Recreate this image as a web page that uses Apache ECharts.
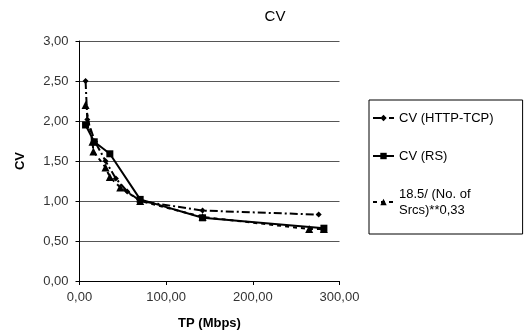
<!DOCTYPE html>
<html>
<head>
<meta charset="utf-8">
<script src="https://cdn.jsdelivr.net/npm/echarts@6/dist/echarts.min.js"></script>
<style>html,body{margin:0;padding:0;background:#fff}#c{width:526px;height:336px}</style>
</head>
<body>
<div id="c"></div>
<script>
const seriesNames = ['CV (HTTP-TCP)', 'CV (RS)', '18.5/ (No. of\nSrcs)**0,33'];
const httpTcp = [[7, 2.50], [9, 2.02], [18, 1.74], [30, 1.50], [42, 1.28], [55, 1.12], [70, 1.00], [142, 0.88], [276, 0.83]];
const rs = [[7, 1.95], [17, 1.74], [35, 1.59], [70, 1.02], [142, 0.79], [282, 0.66]];
const formula = [[7, 2.20], [15, 1.74], [16, 1.62], [30, 1.42], [35, 1.30], [47, 1.17], [70, 1.00], [142, 0.80], [265, 0.65], [282, 0.65]];
const xTicks = [0, 100, 200, 300];
const yTicks = [0, 0.5, 1, 1.5, 2, 2.5, 3];

const fmt = v => v.toFixed(2).replace('.', ',');
const chart = echarts.init(document.getElementById('c'), null, {renderer: 'canvas'});
const font = 'Liberation Sans, Arial, sans-serif';
chart.setOption({
  animation: false,
  backgroundColor: '#fff',
  title: {text: 'CV', left: 270, top: 4, textAlign: 'center',
    textStyle: {fontFamily: font, fontSize: 15, fontWeight: 'normal', color: '#000'}},
  grid: {left: 79.5, right: 186.5, top: 41, bottom: 55},
  xAxis: {
    type: 'value', min: xTicks[0], max: xTicks[xTicks.length - 1], interval: 100,
    name: 'TP (Mbps)', nameLocation: 'middle', nameGap: 36,
    nameTextStyle: {fontFamily: font, fontSize: 13, fontWeight: 'bold', color: '#000'},
    axisLine: {lineStyle: {color: '#000', width: 1}},
    axisTick: {show: true, length: 4, lineStyle: {color: '#000'}},
    axisLabel: {formatter: fmt, fontFamily: font, fontSize: 13, color: '#333', margin: 10},
    splitLine: {show: false}
  },
  yAxis: {
    type: 'value', min: yTicks[0], max: yTicks[yTicks.length - 1], interval: 0.5,
    name: 'CV', nameLocation: 'middle', nameGap: 53, nameRotate: 90,
    nameTextStyle: {fontFamily: font, fontSize: 13, fontWeight: 'bold', color: '#000'},
    axisLine: {show: true, lineStyle: {color: '#000', width: 1}},
    axisTick: {show: true, length: 4, lineStyle: {color: '#000'}},
    axisLabel: {formatter: fmt, fontFamily: font, fontSize: 13, color: '#333', margin: 11},
    splitLine: {show: true, lineStyle: {color: '#555', width: 1}}
  },
  legend: {
    orient: 'vertical', left: 369, top: 100,
    padding: [10, 29, 16, 3], itemGap: 22,
    borderColor: '#000', borderWidth: 1,
    itemWidth: 21, itemHeight: 8,
    textStyle: {fontFamily: font, fontSize: 13, color: '#000', lineHeight: 16},
    data: seriesNames
  },
  series: [
    {name: seriesNames[0], type: 'line', data: httpTcp, symbol: 'diamond', symbolSize: 6,
      itemStyle: {color: '#000'}, lineStyle: {color: '#000', width: 2, type: [8, 3, 2, 3]}},
    {name: seriesNames[1], type: 'line', data: rs, symbol: 'rect', symbolSize: 7,
      itemStyle: {color: '#000'}, lineStyle: {color: '#000', width: 2, type: 'solid'}},
    {name: seriesNames[2], type: 'line', data: formula, symbol: 'triangle', symbolSize: 8,
      itemStyle: {color: '#000'}, lineStyle: {color: '#000', width: 2, type: [4, 4]}}
  ]
});
</script>
</body>
</html>
